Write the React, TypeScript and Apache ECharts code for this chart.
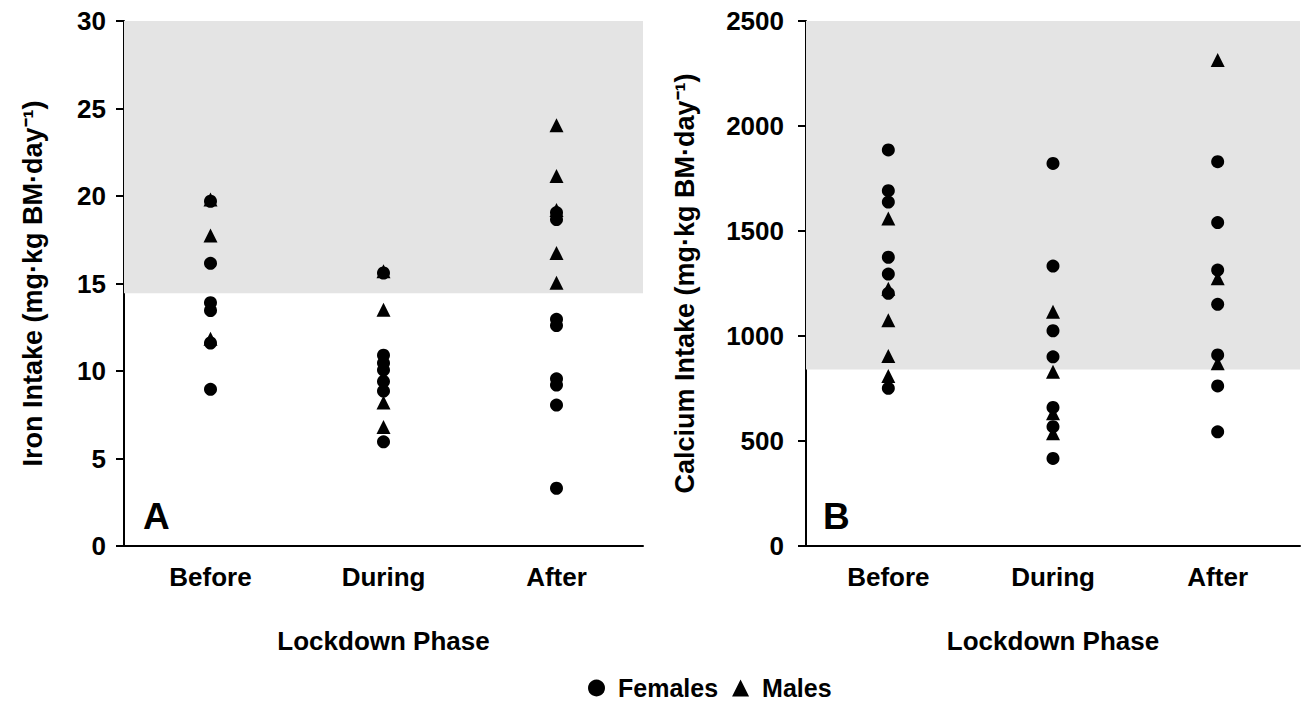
import React, { useEffect, useRef } from "react";
import * as echarts from "echarts";

const categories = ["Before", "During", "After"];

// Panel A – Iron intake (mg·kg BM·day-1)
const ironFemales: [string, number][] = [
  ["Before", 19.7], ["Before", 16.15], ["Before", 13.9], ["Before", 13.45], ["Before", 11.6], ["Before", 8.95],
  ["During", 15.6], ["During", 10.9], ["During", 10.45], ["During", 10.05], ["During", 9.4], ["During", 8.85], ["During", 5.95],
  ["After", 19.05], ["After", 18.65], ["After", 12.95], ["After", 12.6], ["After", 9.55], ["After", 9.2], ["After", 8.05], ["After", 3.3],
];
const ironMales: [string, number][] = [
  ["Before", 19.8], ["Before", 17.75], ["Before", 11.85],
  ["During", 15.7], ["During", 13.5], ["During", 8.2], ["During", 6.8],
  ["After", 24.05], ["After", 21.15], ["After", 19.2], ["After", 16.75], ["After", 15.05],
];

// Panel B – Calcium intake (mg·kg BM·day-1)
const calciumFemales: [string, number][] = [
  ["Before", 1886], ["Before", 1692], ["Before", 1638], ["Before", 1375], ["Before", 1295], ["Before", 1203], ["Before", 751],
  ["During", 1822], ["During", 1333], ["During", 1025], ["During", 901], ["During", 660], ["During", 568], ["During", 417],
  ["After", 1830], ["After", 1540], ["After", 1314], ["After", 1151], ["After", 910], ["After", 762], ["After", 544],
];
const calciumMales: [string, number][] = [
  ["Before", 1560], ["Before", 1225], ["Before", 1075], ["Before", 905], ["Before", 810],
  ["During", 1116], ["During", 830], ["During", 632], ["During", 537],
  ["After", 2314], ["After", 1275], ["After", 870],
];

// Shaded reference ranges
const ironBand = [14.45, 30];
const calciumBand = [840, 2500];

const FONT = 'Arial, "Liberation Sans", Helvetica, sans-serif';

export default function App() {
  const ref = useRef<HTMLDivElement>(null);

  useEffect(() => {
    if (!ref.current) return;
    const chart = echarts.init(ref.current, null, { renderer: "svg" });

    const txt = { color: "#000", fontFamily: FONT, fontWeight: "bold" as const, fontSize: 26 };
    const xAxisCommon = (gridIndex: number) => ({
      type: "category" as const,
      gridIndex,
      data: categories,
      boundaryGap: true,
      name: "Lockdown Phase",
      nameLocation: "middle" as const,
      nameGap: 82,
      nameTextStyle: { ...txt },
      axisLine: { lineStyle: { color: "#000", width: 2 } },
      axisTick: { alignWithLabel: true, length: 7, lineStyle: { color: "#000", width: 2 } },
      axisLabel: { ...txt, margin: 18 },
      splitLine: { show: false },
    });
    const yAxisCommon = (gridIndex: number, max: number, interval: number, name: string, nameGap: number, labelMargin: number) => ({
      type: "value" as const,
      gridIndex,
      min: 0,
      max,
      interval,
      name,
      nameLocation: "middle" as const,
      nameGap,
      nameTextStyle: { ...txt, fontSize: 27 },
      axisLine: { show: true, lineStyle: { color: "#000", width: 2 } },
      axisTick: { show: true, length: 8, lineStyle: { color: "#000", width: 2 } },
      axisLabel: { ...txt, margin: labelMargin, formatter: (v: number) => String(v) },
      splitLine: { show: false },
    });
    const band = (b: number[]) => ({
      silent: true,
      itemStyle: { color: "#e4e4e4" },
      data: [[{ yAxis: b[0] }, { yAxis: b[1] }]],
    });
    const mark = { color: "#000", opacity: 1 };

    chart.setOption({
      animation: false,
      backgroundColor: "#fff",
      grid: [
        { left: 124, top: 21, width: 519, height: 525 },
        { left: 806, top: 21, width: 494, height: 525 },
      ],
      xAxis: [xAxisCommon(0), xAxisCommon(1)],
      yAxis: [
        yAxisCommon(0, 30, 5, "Iron Intake (mg·kg BM·day⁻¹)", 78, 18),
        yAxisCommon(1, 2500, 500, "Calcium Intake (mg·kg BM·day⁻¹)", 108, 22),
      ],
      legend: {
        data: [
          { name: "Females", icon: "circle" },
          { name: "Males", icon: "triangle" },
        ],
        left: 588,
        top: 674,
        padding: 0,
        itemWidth: 17,
        itemHeight: 17,
        itemGap: 14,
        textStyle: { ...txt, fontSize: 25, lineHeight: 28, padding: [0, 0, 0, 8] },
      },
      graphic: [
        { type: "text", left: 143, top: 498, style: { text: "A", fill: "#000", font: `bold 37px ${FONT}` } },
        { type: "text", left: 823, top: 498, style: { text: "B", fill: "#000", font: `bold 37px ${FONT}` } },
      ],
      series: [
        {
          name: "Females", type: "scatter", xAxisIndex: 0, yAxisIndex: 0, symbol: "circle", symbolSize: 13,
          itemStyle: mark, data: ironFemales, markArea: band(ironBand), z: 3,
        },
        {
          name: "Males", type: "scatter", xAxisIndex: 0, yAxisIndex: 0, symbol: "triangle", symbolSize: 14,
          itemStyle: mark, data: ironMales, z: 3,
        },
        {
          name: "Females", type: "scatter", xAxisIndex: 1, yAxisIndex: 1, symbol: "circle", symbolSize: 13,
          itemStyle: mark, data: calciumFemales, markArea: band(calciumBand), z: 3,
        },
        {
          name: "Males", type: "scatter", xAxisIndex: 1, yAxisIndex: 1, symbol: "triangle", symbolSize: 14,
          itemStyle: mark, data: calciumMales, z: 3,
        },
      ],
    });

    return () => chart.dispose();
  }, []);

  return (
    <div
      ref={ref}
      style={{ position: "fixed", left: 0, top: 0, width: 1307, height: 706, background: "#fff" }}
    />
  );
}
